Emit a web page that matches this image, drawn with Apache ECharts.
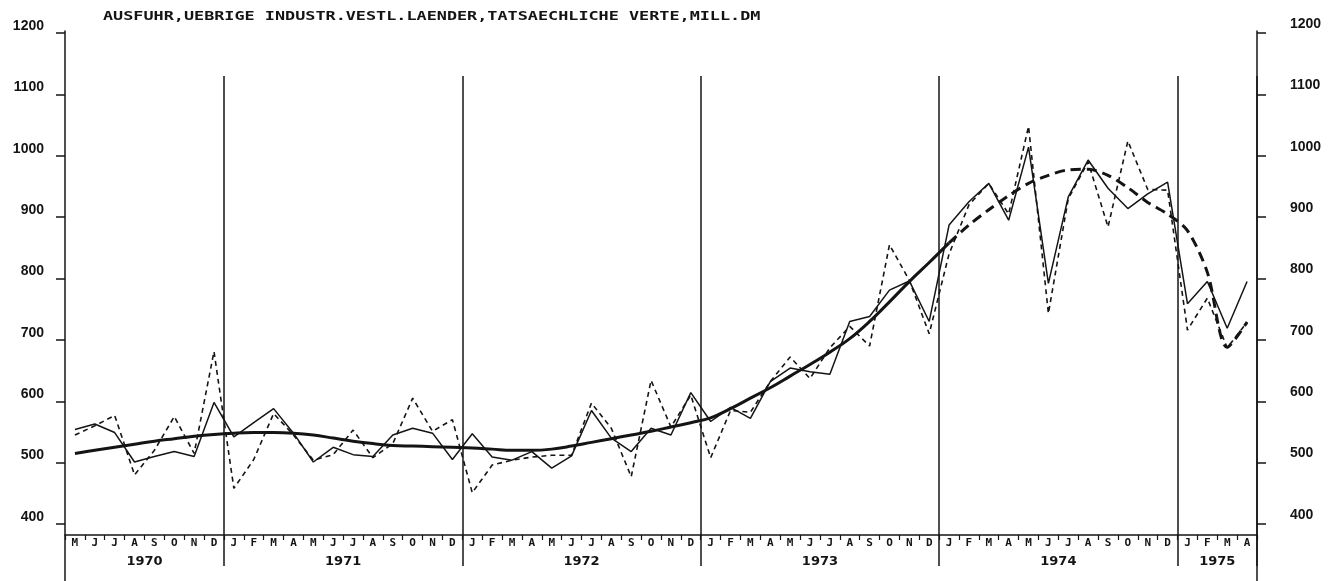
<!DOCTYPE html>
<html>
<head>
<meta charset="utf-8">
<script src="https://cdn.jsdelivr.net/npm/echarts@6/dist/echarts.min.js"></script>
<style>
html,body{margin:0;padding:0;background:#fff;}
#chart{width:1342px;height:581px;}
</style>
</head>
<body>
<div id="chart"></div>
<script>
// ---- data ----
const title = 'AUSFUHR,UEBRIGE INDUSTR.VESTL.LAENDER,TATSAECHLICHE VERTE,MILL.DM';
const years = ['1970', '1971', '1972', '1973', '1974', '1975'];
const monthsPerYear = [8, 12, 12, 12, 12, 4];
const monthInitials = ['J', 'F', 'M', 'A', 'M', 'J', 'J', 'A', 'S', 'O', 'N', 'D'];
const firstMonthIndex = 4; // May 1970
const yTicks = [400, 500, 600, 700, 800, 900, 1000, 1100, 1200];

// thin solid line (May 1970 .. Apr 1975)
const adjusted = [
  554, 563, 549, 501, 510, 518, 510, 598,
  542, 565, 588, 548, 501, 525, 513, 510, 545, 556, 548, 505,
  547, 509, 504, 518, 491, 511, 585, 540, 518, 556, 545, 614,
  567, 590, 572, 632, 654, 648, 644, 730, 738, 781, 796, 730,
  887, 925, 955, 895, 1014, 792, 933, 993, 947, 914, 938, 957,
  759, 795, 719, 795
];
// thin dashed line: actual values
const actual = [
  545, 560, 577, 480, 520, 575, 515, 681,
  458, 505, 580, 545, 504, 513, 553, 508, 531, 605, 551, 570,
  451, 496, 504, 509, 512, 512, 597, 556, 477, 634, 558, 610,
  508, 585, 582, 632, 672, 637, 687, 722, 690, 855, 797, 710,
  840, 920, 955, 905, 1048, 743, 930, 990, 884, 1024, 945, 944,
  716, 768, 687, 729
];
// heavy solid trend (May 1970 .. Jan 1974)
const trend = [
  515, 520, 525, 530, 535, 539, 543, 546,
  548, 549, 549, 548, 545, 540, 535, 531, 528, 527, 526, 525,
  524, 522, 520, 520, 522, 527, 533, 539, 545, 551, 558, 565,
  573, 588, 605, 622, 641, 660, 680, 702, 730, 762, 795, 826,
  858
];
// heavy dashed continuation (Jan 1974 .. Apr 1975)
const trendCont = [858, 887, 912, 935, 955, 968, 977, 978, 968, 948, 924, 905, 878, 810, 688, 729];

// ---- derived structures ----
const categories = [];
const yearStarts = [];
const yearCenters = [];
let idx = 0;
monthsPerYear.forEach((n, y) => {
  if (y > 0) yearStarts.push(idx);
  yearCenters.push(idx + n / 2);
  for (let k = 0; k < n; k++) {
    const m = y === 0 ? (firstMonthIndex + k) : k;
    categories.push(monthInitials[m]);
    idx++;
  }
});
const nCat = categories.length;
const trendSeries = trend.concat(new Array(nCat - trend.length).fill(null));
const contStart = trend.length - 1;
const trendContSeries = new Array(contStart).fill(null).concat(trendCont);

const INK = '#141414';
const chart = echarts.init(document.getElementById('chart'), null, {renderer: 'canvas'});

const yLabelBase = {
  fontFamily: '"Liberation Sans", Arial, sans-serif',
  fontWeight: 'bold',
  fontSize: 14,
  color: INK,
  verticalAlign: 'bottom',
  lineHeight: 14,
  formatter: function (v) { return String(v); }
};

chart.setOption({
  animation: false,
  backgroundColor: '#ffffff',
  graphic: [{
    type: 'text',
    x: 103,
    y: 11,
    scaleX: 1.40,
    style: {
      text: title,
      font: 'bold 12px "DejaVu Sans Mono", monospace',
      fill: INK,
      textVerticalAlign: 'top'
    }
  }],
  grid: [
    {left: 65, right: 85, top: 33, bottom: 57},   // main plot
    {left: 65, right: 85, top: 76, bottom: 15},   // year separator lines
    {left: 65, right: 85, top: 31, bottom: 0}     // long vertical frame lines
  ],
  xAxis: [
    {
      type: 'category', gridIndex: 0, data: categories, boundaryGap: true,
      offset: 11,
      axisLine: {show: true, lineStyle: {color: INK, width: 1.5}},
      axisTick: {show: true, interval: 0, length: 5, lineStyle: {color: INK, width: 1.2}},
      axisLabel: {
        interval: 0, margin: 3, color: INK,
        fontFamily: '"DejaVu Sans Mono", monospace', fontWeight: 'bold', fontSize: 11
      },
      splitLine: {show: false}
    },
    {
      type: 'value', gridIndex: 0, min: 0, max: nCat, position: 'bottom', offset: 11,
      axisLine: {show: false}, axisTick: {show: false}, splitLine: {show: false},
      axisLabel: {
        customValues: yearCenters, margin: 20, color: INK,
        fontFamily: '"DejaVu Sans", sans-serif', fontWeight: 'bold', fontSize: 13,
        formatter: function (v) {
          const i = yearCenters.findIndex(c => Math.abs(c - v) < 1e-6);
          return i >= 0 ? years[i] : '';
        }
      }
    },
    {
      type: 'category', gridIndex: 1, data: categories, boundaryGap: true,
      axisLine: {show: false}, axisTick: {show: false}, axisLabel: {show: false},
      splitLine: {
        show: true,
        interval: function (i) { return yearStarts.indexOf(i) >= 0; },
        lineStyle: {color: INK, width: 1.5}
      }
    },
    {
      type: 'category', gridIndex: 2, data: categories, show: false
    }
  ],
  yAxis: [
    {
      type: 'value', gridIndex: 0, min: yTicks[0], max: yTicks[yTicks.length - 1], interval: 100,
      position: 'left',
      axisLine: {show: false},
      axisTick: {show: true, length: 9, lineStyle: {color: INK, width: 1.5}},
      axisLabel: Object.assign({}, yLabelBase, {margin: 21}),
      splitLine: {show: false}
    },
    {
      type: 'value', gridIndex: 0, min: yTicks[0], max: yTicks[yTicks.length - 1], interval: 100,
      position: 'right',
      axisLine: {show: false},
      axisTick: {show: true, length: 9, lineStyle: {color: INK, width: 1.5}},
      axisLabel: Object.assign({}, yLabelBase, {margin: 33, lineHeight: 18}),
      splitLine: {show: false}
    },
    {type: 'value', gridIndex: 1, show: false, min: 0, max: 1},
    {
      type: 'value', gridIndex: 2, position: 'left', min: 0, max: 1,
      axisLine: {show: true, lineStyle: {color: INK, width: 1.5}},
      axisTick: {show: false}, axisLabel: {show: false}, splitLine: {show: false}
    },
    {
      type: 'value', gridIndex: 2, position: 'right', min: 0, max: 1,
      axisLine: {show: true, lineStyle: {color: INK, width: 1.5}},
      axisTick: {show: false}, axisLabel: {show: false}, splitLine: {show: false}
    }
  ],
  series: [
    {
      name: 'actual', type: 'line', xAxisIndex: 0, yAxisIndex: 0, data: actual,
      showSymbol: false, symbol: 'none',
      lineStyle: {color: INK, width: 1.6, type: [5, 4]}
    },
    {
      name: 'adjusted', type: 'line', xAxisIndex: 0, yAxisIndex: 0, data: adjusted,
      showSymbol: false, symbol: 'none',
      lineStyle: {color: INK, width: 1.5}
    },
    {
      name: 'trend', type: 'line', xAxisIndex: 0, yAxisIndex: 0, data: trendSeries,
      showSymbol: false, symbol: 'none', smooth: 0.4,
      lineStyle: {color: INK, width: 3}
    },
    {
      name: 'trendCont', type: 'line', xAxisIndex: 0, yAxisIndex: 0, data: trendContSeries,
      showSymbol: false, symbol: 'none', smooth: 0.3,
      lineStyle: {color: INK, width: 3, type: [10, 6]}
    }
  ]
});
</script>
</body>
</html>
